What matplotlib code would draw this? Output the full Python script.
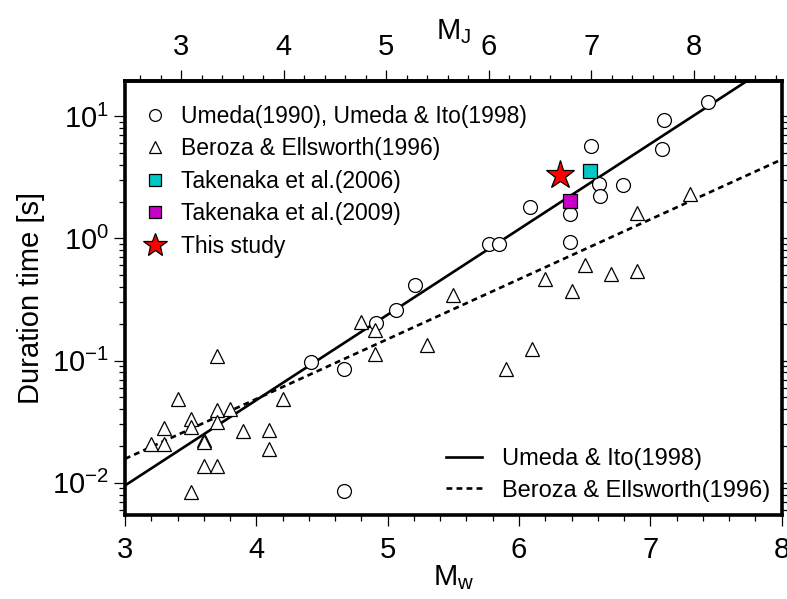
import numpy as np
import matplotlib
matplotlib.use("Agg")
import matplotlib.pyplot as plt
from matplotlib.ticker import LogLocator, MultipleLocator, NullFormatter, FixedLocator

# -----------------------------------------
# Data
# -----------------------------------------
# Umeda(1990), Umeda & Ito(1998)
umeda_mw = [4.42, 4.67, 4.67, 4.91, 5.06, 5.21, 5.77, 5.85, 6.08, 6.39,
            6.39, 6.55, 6.61, 6.62, 6.79, 7.09, 7.10, 7.44]
umeda_t = [0.097, 0.086, 0.0085, 0.203, 0.261, 0.413, 0.895, 0.895, 1.79, 1.57,
           0.935, 5.68, 2.81, 2.21, 2.72, 5.43, 9.27, 12.95]

# Beroza & Ellsworth(1996)
beroza_mw = [3.2, 3.3, 3.3, 3.4, 3.5, 3.5, 3.5, 3.6, 3.6, 3.6,
             3.7, 3.7, 3.7, 3.7, 3.8, 3.9, 4.1, 4.1, 4.2, 4.8,
             4.9, 4.9, 5.3, 5.5, 5.9, 6.1, 6.2, 6.4, 6.5, 6.7,
             6.9, 6.9, 7.3]
beroza_t = [0.0208, 0.0208, 0.0282, 0.0488, 0.0334, 0.0285, 0.0084, 0.0222, 0.0215, 0.0136,
            0.108, 0.0396, 0.0314, 0.0136, 0.0403, 0.0266, 0.0272, 0.019, 0.0488, 0.206,
            0.177, 0.114, 0.133, 0.342, 0.0848, 0.125, 0.469, 0.371, 0.602, 0.515,
            0.541, 1.61, 2.30]

# Takenaka et al.
tak2006_mw, tak2006_t = [6.54], [3.55]
tak2009_mw, tak2009_t = [6.39], [2.01]

# This study
this_mw, this_t = [6.31], [3.29]

# Scaling lines (end points)
line_mw = [3.0, 8.0]
umeda_line_t = [0.0095, 29.7]
beroza_line_t = [0.0157, 4.42]

# MJ <-> Mw conversion for the top axis
mj_a, mj_b = 0.78, 1.09
mj_ticks = [3, 4, 5, 6, 7, 8]

# -----------------------------------------
# Style
# -----------------------------------------
plt.rcParams["font.family"] = ["Liberation Sans", "DejaVu Sans"]
plt.rcParams["mathtext.fontset"] = "custom"
plt.rcParams["mathtext.rm"] = "Liberation Sans"
plt.rcParams["mathtext.it"] = "Liberation Sans"
plt.rcParams["mathtext.bf"] = "Liberation Sans:bold"
plt.rcParams["axes.unicode_minus"] = True

fig = plt.figure(figsize=(7.87, 5.99), dpi=100)
ax = fig.add_axes([0.1588, 0.1394, 0.8345, 0.7259])

# -----------------------------------------
# Lines and points
# -----------------------------------------
ax.plot(line_mw, umeda_line_t, color="black", lw=1.9, zorder=2,
        label="Umeda & Ito(1998)")
ax.plot(line_mw, beroza_line_t, color="black", lw=1.9, ls=(0, (2.2, 1.6)), zorder=2,
        label="Beroza & Ellsworth(1996)")

h1, = ax.plot(umeda_mw, umeda_t, ls="none", marker="o", ms=10, mfc="white",
              mec="black", mew=0.9, zorder=3)
h2, = ax.plot(beroza_mw, beroza_t, ls="none", marker="^", ms=9.5, mfc="white",
              mec="black", mew=0.9, zorder=3)
h3, = ax.plot(tak2006_mw, tak2006_t, ls="none", marker="s", ms=9.5, mfc="#00c8c8",
              mec="black", mew=0.9, zorder=4)
h4, = ax.plot(tak2009_mw, tak2009_t, ls="none", marker="s", ms=9.5, mfc="#c800c8",
              mec="black", mew=0.9, zorder=4)
h5, = ax.plot(this_mw, this_t, ls="none", marker="*", ms=21, mfc="red",
              mec="black", mew=0.9, zorder=5)

# -----------------------------------------
# Axes
# -----------------------------------------
ax.set_xscale("linear")
ax.set_yscale("log")
ax.set_xlim(3, 8)
ax.set_ylim(0.0054, 19.5)

ax.xaxis.set_major_locator(MultipleLocator(1))
ax.xaxis.set_minor_locator(MultipleLocator(0.2))
ax.yaxis.set_major_locator(LogLocator(base=10, numticks=10))
ax.yaxis.set_minor_locator(LogLocator(base=10, subs=np.arange(2, 10), numticks=10))
ax.yaxis.set_minor_formatter(NullFormatter())

ax.tick_params(which="both", direction="out", width=0.9, labelsize=21,
               right=True, top=False)
ax.tick_params(which="major", length=8)
ax.tick_params(which="minor", length=4)
ax.tick_params(axis="x", pad=7)
for sp in ax.spines.values():
    sp.set_linewidth(2.6)

ax.set_xlabel("M$_\\mathrm{w}$", fontsize=21, labelpad=-1)
ax.set_ylabel("Duration time [s]", fontsize=21, labelpad=5)

top = ax.secondary_xaxis("top", functions=(lambda m: (m - mj_b) / mj_a,
                                           lambda j: mj_a * j + mj_b))
top.xaxis.set_major_locator(FixedLocator(mj_ticks))
top.xaxis.set_minor_locator(MultipleLocator(0.2))
top.tick_params(which="both", direction="out", width=0.9, labelsize=21, pad=6)
top.tick_params(which="major", length=8)
top.tick_params(which="minor", length=4)
top.spines["top"].set_linewidth(2.6)
top.set_xlabel("M$_\\mathrm{J}$", fontsize=21, labelpad=-4)

# -----------------------------------------
# Legends
# -----------------------------------------
leg1 = ax.legend([h1, h2, h3, h4, h5],
                 ["Umeda(1990), Umeda & Ito(1998)", "Beroza & Ellsworth(1996)",
                  "Takenaka et al.(2006)", "Takenaka et al.(2009)", "This study"],
                 loc="upper left", bbox_to_anchor=(0.028, 0.945), frameon=False,
                 fontsize=16.5, labelspacing=0.42, handlelength=1.0,
                 handletextpad=0.66, borderpad=0, borderaxespad=0,
                 markerscale=0.85)
ax.add_artist(leg1)
ax.legend(loc="lower right", bbox_to_anchor=(0.982, 0.032), frameon=False,
          fontsize=17, labelspacing=0.4, handlelength=1.5,
          handletextpad=0.85, borderpad=0, borderaxespad=0)

fig.savefig("out.png", dpi=100)
